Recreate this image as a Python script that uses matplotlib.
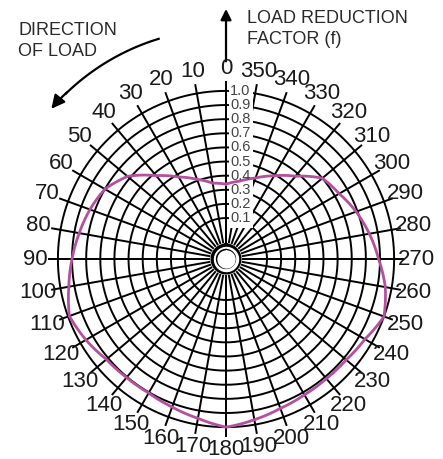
import numpy as np
import matplotlib
matplotlib.use("Agg")
import matplotlib.pyplot as plt
from matplotlib.patches import Rectangle
from matplotlib.transforms import offset_copy

plt.rcParams['font.family'] = ['Liberation Sans', 'DejaVu Sans']

# angle of load (deg) and load reduction factor f
angles = [0, 10, 20, 30, 40, 50, 60, 70, 80, 90, 100, 110, 120, 130, 140, 150, 160, 170,
          180, 190, 200, 210, 220, 230, 240, 250, 260, 270, 280, 290, 300, 310, 320, 330, 340, 350]
factor = [0.34, 0.355, 0.41, 0.48, 0.58, 0.72, 0.80, 0.835, 0.865, 0.90, 0.94, 0.99, 0.955, 0.915,
          0.905, 0.905, 0.925, 0.955, 1.0, 0.965, 0.935, 0.92, 0.915, 0.92, 0.945, 1.0, 0.955, 0.89,
          0.84, 0.79, 0.735, 0.70, 0.575, 0.49, 0.42, 0.37]
ring_values = [0.1, 0.2, 0.3, 0.4, 0.5, 0.6, 0.7, 0.8, 0.9, 1.0]
ring_labels = ['0.1', '0.2', '0.3', '0.4', '0.5', '0.6', '0.7', '0.8', '0.9', '1.0']
spoke_angles = list(range(0, 360, 10))

fig = plt.figure(figsize=(4.43, 4.59), dpi=100)
ax = fig.add_axes([0.1084, 0.0479, 0.8036, 0.7756], projection='polar')
ax.set_theta_zero_location('N')
ax.set_theta_direction(1)
ax.set_ylim(-0.19, 1.07)
ax.set_axis_off()

full = np.linspace(0, 2 * np.pi, 721)

# rings
for f in ring_values:
    ax.plot(full, np.full_like(full, f), color='black', lw=1.4, zorder=2)

# spokes with small ticks past the outer ring
for a in spoke_angles:
    t = np.deg2rad(a)
    ax.plot([t, t], [-0.07, 1.06], color='black', lw=1.4, zorder=2, clip_on=False)

# hub
ax.plot(full, np.full_like(full, -0.094), color='black', lw=2.8, zorder=3)
ax.fill_between(full, -0.19, -0.105, color='white', zorder=3)
ax.plot(full, np.full_like(full, -0.125), color='black', lw=1.4, zorder=4)
ax.fill_between(full, -0.19, -0.13, color='white', zorder=4)

# white strip for the factor scale
ax.add_patch(Rectangle((0.509, 0.587), 0.068, 0.41, transform=ax.transAxes,
                       facecolor='white', edgecolor='none', zorder=5, clip_on=False))
ax.plot([0, 0], [-0.07, 1.0], color='black', lw=1.4, zorder=5)

# curve (closed at 360 deg, drawn with the polar axes' own interpolation)
t_curve = np.deg2rad(angles + [360])
curve, = ax.plot(t_curve, factor + [factor[0]], color='#b4509e', lw=2.0, zorder=6)
curve.get_path()._interpolation_steps = 20

# factor labels
lab_tr = offset_copy(ax.transData, fig=fig, x=4, y=0, units='dots')
for f, s in zip(ring_values, ring_labels):
    ax.text(0, f, s, transform=lab_tr, ha='left', va='center', fontsize=10.5,
            color='#444444', zorder=7)

# angle labels
for a in spoke_angles:
    ax.text(np.deg2rad(a), 1.16, str(a), ha='center', va='center', fontsize=16,
            color='#1a1a1a', zorder=7)

# vertical arrow
ax.annotate('', xy=(0, 1.60), xytext=(0, 1.19), annotation_clip=False,
            arrowprops=dict(arrowstyle='-|>', color='black', lw=1.6, mutation_scale=16))
fig.text(247 / 443, 1 - 10 / 459, 'LOAD REDUCTION\nFACTOR (f)', ha='left', va='top',
         fontsize=13, color='#2a2a2a', linespacing=1.3)

# direction of load arrow (arc)
arc = np.deg2rad(np.linspace(17, 44, 50))
ax.plot(arc, np.full_like(arc, 1.44), color='black', lw=1.6, clip_on=False)
ax.annotate('', xy=(np.deg2rad(50), 1.44), xytext=(np.deg2rad(43), 1.44),
            annotation_clip=False,
            arrowprops=dict(arrowstyle='-|>', color='black', lw=1.6, mutation_scale=20,
                            connectionstyle='arc3,rad=0.05'))
fig.text(18 / 443, 1 - 22 / 459, 'DIRECTION\nOF LOAD', ha='left', va='top',
         fontsize=13, color='#2a2a2a', linespacing=1.3)

fig.savefig('out.png', dpi=100, facecolor='white')
